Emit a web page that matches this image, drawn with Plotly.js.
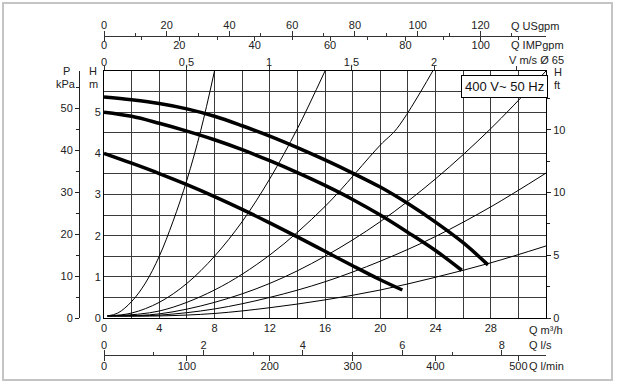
<!DOCTYPE html>
<html><head><meta charset="utf-8">
<script src="https://cdn.plot.ly/plotly-3.0.1.min.js"></script>
<style>html,body{margin:0;padding:0;background:#fff}#chart{width:618px;height:384px}</style>
</head><body><div id="chart"></div>
<script>
// ---- data (Q in m3/h, H in m) ----
const pump1Q = [0, 2, 4, 6, 8, 10, 12, 14, 16, 18, 20, 22, 24, 26, 27.8];
const pump1H = [5.37, 5.30, 5.21, 5.08, 4.90, 4.67, 4.42, 4.14, 3.84, 3.52, 3.18, 2.78, 2.33, 1.83, 1.29];
const pump2Q = [0, 2, 4, 6, 8, 10, 12, 14, 16, 18, 20, 22, 24, 25.9];
const pump2H = [5.0, 4.9, 4.73, 4.54, 4.33, 4.09, 3.82, 3.53, 3.22, 2.88, 2.5, 2.08, 1.64, 1.16];
const pump3Q = [0, 2, 4, 6, 8, 10, 12, 14, 16, 18, 20, 21.6];
const pump3H = [4.0, 3.76, 3.51, 3.24, 2.95, 2.64, 2.31, 1.97, 1.62, 1.27, 0.93, 0.68];

const sysAQ = [0.25, 1, 2, 3, 4, 5, 6, 7, 8];
const sysAH = [0.05, 0.12, 0.4, 0.85, 1.5, 2.35, 3.35, 4.55, 6.0];
const sysBQ = [0.25, 2, 4, 6, 8, 10, 12, 14, 16];
const sysBH = [0.05, 0.12, 0.38, 0.84, 1.5, 2.34, 3.38, 4.6, 6.0];
const sysCQ = [0.25, 4, 8, 12, 16, 20, 21.2, 23.8];
const sysCH = [0.05, 0.17, 0.68, 1.53, 2.71, 4.2, 4.6, 6.0];
const sysDQ = [0.25, 4, 8, 12, 16, 20, 24, 28, 32];
const sysDH = [0.05, 0.1, 0.38, 0.84, 1.5, 2.34, 3.38, 4.6, 6.0];
const sysEQ = [0.25, 4, 8, 12, 16, 20, 24, 28, 32];
const sysEH = [0.05, 0.07, 0.22, 0.5, 0.88, 1.38, 1.98, 2.7, 3.52];
const sysFQ = [0.25, 4, 8, 12, 16, 20, 24, 28, 32];
const sysFH = [0.05, 0.05, 0.11, 0.25, 0.44, 0.68, 0.99, 1.34, 1.75];

// tick labels
const qTicks = [0, 4, 8, 12, 16, 20, 24, 28];
const hTicks = [0, 1, 2, 3, 4, 5];
const pTicks = [0, 10, 20, 30, 40, 50];
const ftTicks = [0, 5, 10, 15];
const ftLabels = ['0', '5', '10', '10'];
const usTicks = [0, 20, 40, 60, 80, 100, 120];
const impTicks = [0, 20, 40, 60, 80, 100];
const vTicks = [0, 0.5, 1, 1.5, 2, 2.5];
const vLabels = ['0', '0,5', '1', '1,5', '2', ''];
const lsTicks = [0, 2, 4, 6, 8];
const lminTicks = [0, 100, 200, 300, 400, 500];
const legendText = '400 V~ 50 Hz';

// ---- unit conversions ----
const QMAX = 32, HMAX = 6;
const US_PER_M3H = 4.40287, IMP_PER_M3H = 3.66615;
const AREA65 = Math.PI * 0.065 * 0.065 / 4;
const KPA_PER_M = 9.80665, FT_PER_M = 1 / 0.3048;

// ---- geometry ----
const W = 618, Hh = 384, Lm = 60, Rm = 20, Tm = 20, Bm = 14;
const PW = W - Lm - Rm, PH = Hh - Tm - Bm;
const px = x => (x - Lm) / PW;
const py = y => (Hh - Bm - y) / PH;
const xDom = [px(104), px(546)];
const yDom = [py(318), py(71)];

const range = (a, b, s) => { const r = []; for (let v = a; v <= b + 1e-9; v += s) r.push(+v.toFixed(4)); return r; };
const font = {family: 'Liberation Sans, Arial, sans-serif', size: 11, color: '#222'};

const traces = [];
function curve(q, h, w) {
  traces.push({x: q, y: h, mode: 'lines', line: {color: '#000', width: w, shape: 'spline', smoothing: 1},
    hoverinfo: 'skip', showlegend: false, xaxis: 'x', yaxis: 'y', cliponaxis: true});
}
[[sysAQ, sysAH], [sysBQ, sysBH], [sysCQ, sysCH], [sysDQ, sysDH], [sysEQ, sysEH], [sysFQ, sysFH]].forEach(c => curve(c[0], c[1], 1));
[[pump1Q, pump1H], [pump2Q, pump2H], [pump3Q, pump3H]].forEach(c => curve(c[0], c[1], 3.5));
// dummy traces so the secondary axes are drawn
['x2', 'x3', 'x4', 'x5', 'x6'].forEach(a => traces.push({x: [null], y: [null], xaxis: a, yaxis: 'y', mode: 'markers', showlegend: false, hoverinfo: 'skip'}));
['y2', 'y3'].forEach(a => traces.push({x: [null], y: [null], xaxis: 'x', yaxis: a, mode: 'markers', showlegend: false, hoverinfo: 'skip'}));

const qGrid = range(0, 32, 2);
const hGrid = range(0, 6, 0.5);

const sec = (o) => Object.assign({domain: xDom, overlaying: 'x', showgrid: false, zeroline: false, tickfont: font,
  tickmode: 'array', ticks: 'outside', ticklen: 5, tickcolor: '#333', linecolor: '#333', fixedrange: true}, o);

const layout = {
  width: W, height: Hh, margin: {l: Lm, r: Rm, t: Tm, b: Bm},
  paper_bgcolor: '#fff', plot_bgcolor: '#fff', font: font, showlegend: false,
  xaxis: {domain: xDom, range: [0, QMAX], tickmode: 'array', tickvals: qGrid,
    ticktext: qGrid.map(v => qTicks.includes(v) ? String(v) : ''), showgrid: true, gridcolor: '#3a3a3a', gridwidth: 1,
    ticks: '', showline: true, mirror: true, linecolor: '#000', linewidth: 1, zeroline: false, anchor: 'y', tickfont: font},
  yaxis: {domain: yDom, range: [0, HMAX], tickmode: 'array', tickvals: hGrid,
    ticktext: hGrid.map(v => hTicks.includes(v) ? String(v) : ''), showgrid: true, gridcolor: '#3a3a3a', gridwidth: 1,
    ticks: '', showline: true, mirror: true, linecolor: '#000', linewidth: 1, zeroline: false, anchor: 'x', tickfont: font},
  xaxis2: sec({anchor: 'free', position: py(36), side: 'top', range: [0, QMAX * US_PER_M3H], tickvals: usTicks,
    ticklabelstandoff: -2,
    minor: {tickvals: range(10, 130, 20), ticks: 'outside', ticklen: 3, tickcolor: '#333'}, showline: true}),
  xaxis3: sec({anchor: 'free', position: py(36), side: 'bottom', range: [0, QMAX * IMP_PER_M3H], tickvals: impTicks,
    ticklen: 4, ticklabelstandoff: -5,
    minor: {tickvals: range(10, 110, 20), ticks: 'outside', ticklen: 3, tickcolor: '#333'}, showline: false}),
  xaxis4: sec({anchor: 'y', side: 'top', range: [0, QMAX / 3600 / AREA65], tickvals: vTicks, ticktext: vLabels,
    ticklen: 4, ticklabelstandoff: -4, showline: false}),
  xaxis5: sec({anchor: 'free', position: py(355), side: 'top', range: [0, QMAX / 3.6], tickvals: lsTicks,
    ticklabelstandoff: -3,
    minor: {tickvals: [1, 3, 5, 7], ticks: 'outside', ticklen: 3, tickcolor: '#333'}, showline: true}),
  xaxis6: sec({anchor: 'free', position: py(355), side: 'bottom', range: [0, QMAX * 1000 / 60], tickvals: lminTicks,
    ticklabelstandoff: -4, showline: false}),
  yaxis2: {domain: yDom, overlaying: 'y', anchor: 'free', position: px(79), side: 'left', range: [0, HMAX * KPA_PER_M],
    tickmode: 'array', tickvals: pTicks, ticks: 'outside', ticklen: 4, tickcolor: '#222', showline: true, linecolor: '#222',
    minor: {tickvals: range(5, 55, 10), ticks: 'outside', ticklen: 3, tickcolor: '#222'},
    showgrid: false, zeroline: false, tickfont: font},
  yaxis3: {domain: yDom, overlaying: 'y', anchor: 'x', side: 'right', range: [0, HMAX * FT_PER_M],
    tickmode: 'array', tickvals: ftTicks, ticktext: ftLabels, ticks: 'outside', ticklen: 4, tickcolor: '#222',
    minor: {tickvals: [2.5, 7.5, 12.5, 17.5], ticks: 'outside', ticklen: 3, tickcolor: '#222'},
    showline: false, showgrid: false, zeroline: false, tickfont: font},
  shapes: [
    {type: 'rect', xref: 'paper', yref: 'paper', x0: px(3), x1: px(612), y0: py(380), y1: py(3),
      line: {color: '#c4c4c4', width: 2}, layer: 'below'}
  ],
  annotations: []
};

function label(text, x, y, anchor, extra) {
  layout.annotations.push(Object.assign({text: text, xref: 'paper', yref: 'paper', x: px(x), y: py(y),
    xanchor: anchor || 'left', yanchor: 'middle', showarrow: false, font: font}, extra || {}));
}
label('P', 66, 71, 'center');
label('kPa', 66, 84, 'center');
label('H', 93, 71, 'center');
label('m', 93, 84, 'center');
label('H', 552, 72, 'left');
label('ft', 552, 85, 'left');
label('Q USgpm', 509, 26);
label('Q IMPgpm', 509, 45);
label('V m/s Ø 65', 507, 60);
label('Q m³/h', 527, 330);
label('Q l/s', 527, 345);
label('Q l/min', 527, 366);
label(legendText, 504, 87, 'center', {bgcolor: '#fff', bordercolor: '#000', borderwidth: 1, borderpad: 3,
  font: {family: font.family, size: 13, color: '#111'}});

Plotly.newPlot('chart', traces, layout, {staticPlot: true, displayModeBar: false});
</script></body></html>
